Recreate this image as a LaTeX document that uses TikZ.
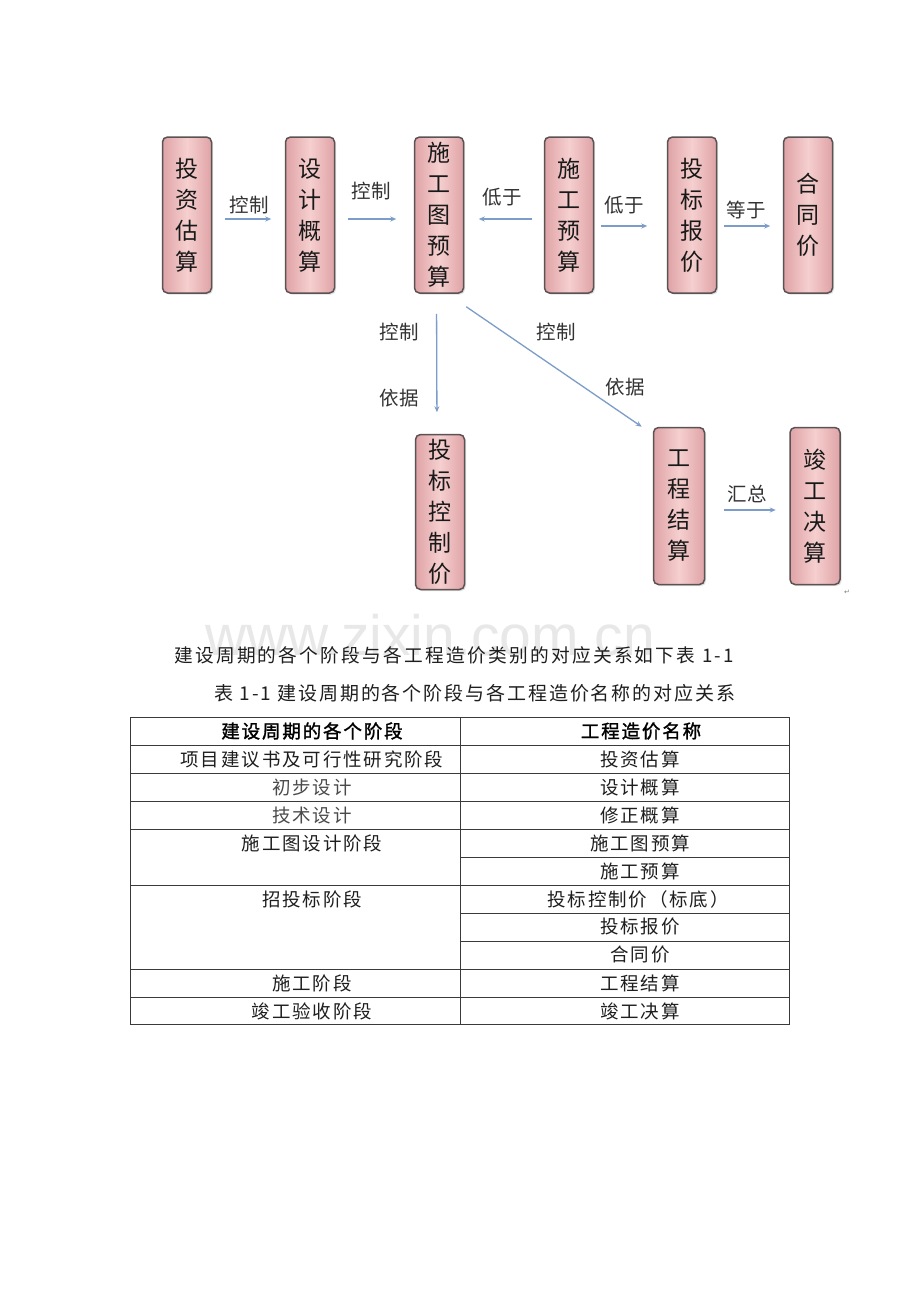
\documentclass[tikz,border=0pt]{standalone}
\usepackage{fontspec}
\setmainfont{Liberation Sans}
\newfontfamily\cjk{Noto Sans CJK SC}
\newfontfamily\cjkt{Noto Sans CJK SC}[LetterSpace=10]
\newfontfamily\cjki{Noto Sans CJK SC}[LetterSpace=12]
\newfontfamily\cjkb{Noto Sans CJK SC}[LetterSpace=10,FakeBold=1.5]
\newfontfamily\dv{DejaVu Sans}
\usetikzlibrary{arrows.meta,shadows}
\definecolor{pinkedge}{HTML}{DFA3A6}
\definecolor{pinkmid}{HTML}{F6CFCF}
\definecolor{boxline}{HTML}{5A5253}
\definecolor{arrowblue}{HTML}{7C9CC9}
\definecolor{labelgray}{HTML}{333333}
\definecolor{tabtext}{HTML}{1E1E1E}
\definecolor{tabgray}{HTML}{4A4A4A}
\definecolor{tabline}{HTML}{3A3A3A}
\definecolor{wmark}{HTML}{E8E8E8}
\begin{document}
\begin{tikzpicture}[x=1pt,y=-1pt,
  box/.style={draw=boxline, line width=1.5pt, rounded corners=5pt,
    left color=pinkedge, right color=pinkedge, middle color=pinkmid,
    minimum width=49pt, minimum height=156pt, inner sep=0pt, align=center,
    font=\cjk\fontsize{23}{31}\selectfont, text=black!90,
    drop shadow={opacity=0.25, shadow xshift=1.5pt, shadow yshift=-1.5pt}},
  lbl/.style={font=\cjk\fontsize{19.5}{19.5}\selectfont, text=labelgray, inner sep=0pt},
  arr/.style={draw=arrowblue, line width=1.3pt, -{Stealth[length=6pt,width=5pt]}},
  td/.style={font=\cjkt\fontsize{18.5}{18.5}\selectfont, inner sep=0pt, text=tabtext},
  th/.style={font=\cjkb\fontsize{18.5}{18.5}\selectfont, inner sep=0pt, text=black},
  tl/.style={draw=tabline, line width=0.9pt}
]
\useasboundingbox (0,0) rectangle (920,1302);
\fill[white] (0,0) rectangle (920,1302);

% watermark
\node[anchor=base, font=\fontsize{57}{57}\selectfont, text=wmark, inner sep=0pt] (wm) at (430,655) {www.zixin.com.cn};

% top row boxes
\node[box] (tz) at (187,215) {投\\资\\估\\算};
\node[box] (sj) at (310,215) {设\\计\\概\\算};
\node[box] (sg) at (439,215) {施\\工\\图\\预\\算};
\node[box] (sy) at (569,215) {施\\工\\预\\算};
\node[box] (tb) at (692,215) {投\\标\\报\\价};
\node[box] (ht) at (808,215) {合\\同\\价};
% lower boxes
\node[box, minimum height=155pt] (kz) at (440,512) {投\\标\\控\\制\\价};
\node[box, minimum width=51pt, minimum height=157pt] (gc) at (679,506) {工\\程\\结\\算};
\node[box, minimum width=50pt, minimum height=157pt] (jg) at (815,506) {竣\\工\\决\\算};

% arrows
\draw[arr, shorten <=12.5pt, shorten >=13.5pt] ([yshift=-4pt]tz.east) -- ([yshift=-4pt]sj.west);
\draw[arr, shorten <=12.5pt, shorten >=17.5pt] ([yshift=-4pt]sj.east) -- ([yshift=-4pt]sg.west);
\draw[arr, shorten <=11.5pt, shorten >=14.5pt] ([yshift=-4pt]sy.west) -- ([yshift=-4pt]sg.east);
\draw[arr, shorten <=6.5pt, shorten >=19.5pt] ([yshift=-11pt]sy.east) -- ([yshift=-11pt]tb.west);
\draw[arr, shorten <=6.5pt, shorten >=12.5pt] ([yshift=-11pt]tb.east) -- ([yshift=-11pt]ht.west);
\draw[arr, shorten <=18.5pt, shorten >=13.5pt] ([yshift=-4pt]gc.east) -- ([yshift=-4pt]jg.west);
\draw[arr, shorten <=20pt, shorten >=21.5pt] ([xshift=-2.5pt]sg.south) -- ([xshift=-3pt]kz.north);
\draw[arr] ([shift={(2,13)}]sg.south east) -- ([shift={(-11,0)}]gc.north west);

% labels
\node[lbl] (l1) at (249,205) {控制};
\node[lbl] (l2) at (371,191) {控制};
\node[lbl] (l3) at (502,197) {低于};
\node[lbl] (l4) at (624,205) {低于};
\node[lbl] (l5) at (746,210) {等于};
\node[lbl] (l6) at (399,332) {控制};
\node[lbl] (l7) at (399,398) {依据};
\node[lbl] (l8) at (556,332) {控制};
\node[lbl] (l9) at (625,387) {依据};
\node[lbl] (l10) at (747,494) {汇总};
\node[font=\dv\fontsize{7}{7}\selectfont, text=gray, inner sep=0pt] (ret) at (847,592) {↵};

% text
\node[td, font=\cjki\fontsize{18.7}{18.7}\selectfont] (intro) at (454,655) {建设周期的各个阶段与各工程造价类别的对应关系如下表 1-1};
\node[td, font=\cjkt\fontsize{19}{19}\selectfont] (cap) at (475,693) {表 1-1 建设周期的各个阶段与各工程造价名称的对应关系};

% table lines
\draw[tl] (130,717) rectangle (789,1024);
\draw[tl] (460,717) -- (460,1024);
\foreach \yy in {745,773,801,829,885,969,997} \draw[tl] (130,\yy) -- (789,\yy);
\foreach \yy in {857,913,941} \draw[tl] (460,\yy) -- (789,\yy);

% table text
\node[th] (h1) at (312,731) {建设周期的各个阶段};
\node[th] (h2) at (641,731) {工程造价名称};
\node[td] (a1) at (312,759) {项目建议书及可行性研究阶段};
\node[td, text=tabgray] (a2) at (312,787) {初步设计};
\node[td, text=tabgray] (a3) at (312,815) {技术设计};
\node[td] (a4) at (312,843) {施工图设计阶段};
\node[td] (a5) at (312,899) {招投标阶段};
\node[td] (a6) at (312,983) {施工阶段};
\node[td] (a7) at (312,1011) {竣工验收阶段};
\node[td] (b1) at (640,759) {投资估算};
\node[td] (b2) at (640,787) {设计概算};
\node[td] (b3) at (640,815) {修正概算};
\node[td] (b4) at (640,843) {施工图预算};
\node[td] (b5) at (640,871) {施工预算};
\node[td] (b6) at (638,899) {投标控制价（标底）};
\node[td] (b7) at (640,927) {投标报价};
\node[td] (b8) at (640,955) {合同价};
\node[td] (b9) at (640,983) {工程结算};
\node[td] (b10) at (640,1011) {竣工决算};
\end{tikzpicture}
\end{document}
